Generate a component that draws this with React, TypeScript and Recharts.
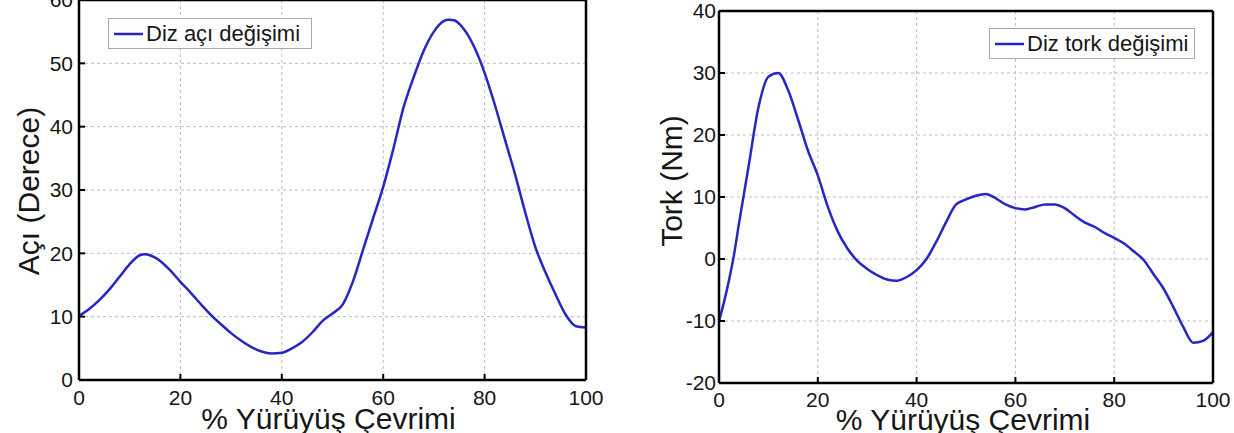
import { LineChart, Line, XAxis, YAxis, CartesianGrid, Legend, Label } from 'recharts';

// Diz açı değişimi (left chart)
const anglePercent = [
  0, 2, 4, 6, 8, 10, 12, 13, 14, 16, 18, 20, 22, 24, 26, 28, 30, 32, 34, 36, 38, 40, 42, 44, 46, 48,
  50, 52, 54, 56, 58, 60, 62, 64, 66, 68, 70, 72, 73, 74, 76, 78, 80, 82, 84, 86, 88, 90, 92, 94, 96,
  98, 100,
];
const angleValues = [
  10.1, 11.2, 12.6, 14.3, 16.3, 18.3, 19.7, 19.85, 19.7, 18.8, 17.3, 15.5, 13.8, 12.0, 10.3, 8.8, 7.4,
  6.2, 5.2, 4.5, 4.2, 4.3, 5.0, 6.0, 7.5, 9.3, 10.5, 11.9, 15.5, 20.5, 25.5, 30.5, 36.5, 43, 47.8, 52,
  55, 56.7, 56.9, 56.8, 55.3, 52.5, 48.5, 43.5, 38, 32.5, 26.5, 21, 17, 13.5, 10.3, 8.5, 8.3,
];

// Diz tork değişimi (right chart)
const torquePercent = [
  0, 1, 2, 3, 4, 6, 8, 10, 12, 14, 16, 18, 20, 22, 24, 26, 28, 30, 32, 34, 36, 38, 40, 42, 44, 46, 48,
  50, 52, 54, 56, 58, 60, 62, 64, 66, 68, 70, 72, 74, 76, 78, 80, 82, 84, 86, 88, 90, 92, 94, 96, 98,
  100,
];
const torqueValues = [
  -10, -7, -3.5, 0.5, 5.5, 15, 24.5, 29.4, 30, 27.2, 22.5, 17.5, 13.5, 8.5, 4.5, 1.7, -0.3, -1.6, -2.6,
  -3.3, -3.5, -2.9, -1.8, 0, 2.8, 6, 8.8, 9.6, 10.2, 10.5, 9.8, 8.8, 8.2, 8.0, 8.4, 8.8, 8.8, 8.2, 7.0,
  5.9, 5.2, 4.2, 3.4, 2.5, 1.2, -0.2, -2.5, -4.8, -7.8, -11, -13.5, -13.2, -11.8,
];

const xTicks = [0, 20, 40, 60, 80, 100];
const angleTicks = [0, 10, 20, 30, 40, 50, 60];
const torqueTicks = [-20, -10, 0, 10, 20, 30, 40];

const xTitle = '% Yürüyüş Çevrimi';
const angleTitle = 'Açı (Derece)';
const torqueTitle = 'Tork (Nm)';
const angleLegend = 'Diz açı değişimi';
const torqueLegend = 'Diz tork değişimi';

const angleData = anglePercent.map((x, i) => ({ x, v: angleValues[i] }));
const torqueData = torquePercent.map((x, i) => ({ x, v: torqueValues[i] }));

const FONT = '"Liberation Sans", Arial, Helvetica, sans-serif';
const BLUE = '#2626c4';
const INK = '#161616';

const tickFont = { fontSize: 21, fill: INK, fontFamily: FONT };
const axisLine = { stroke: '#000', strokeWidth: 2.5 };
const tickLine = { stroke: '#000', strokeWidth: 2 };

function LegendBox({ text }: { text: string }) {
  return (
    <div
      style={{
        display: 'flex',
        alignItems: 'center',
        height: 31,
        boxSizing: 'border-box',
        border: '1px solid #a8a8a8',
        background: '#fff',
        padding: '0 5px',
        fontFamily: FONT,
        fontSize: 22,
        color: INK,
        whiteSpace: 'nowrap',
      }}
    >
      <svg width={29} height={6} style={{ flex: 'none' }}>
        <line x1={0} y1={3} x2={29} y2={3} stroke={BLUE} strokeWidth={2.5} />
      </svg>
      <span style={{ marginLeft: 3 }}>{text}</span>
    </div>
  );
}

function yTitle(text: string, dx: number, dy: number) {
  return (props: any) => {
    const { x, y, height } = props.viewBox;
    const cx = x + dx;
    const cy = y + height / 2 + dy;
    return (
      <text
        x={cx}
        y={cy}
        transform={`rotate(-90 ${cx} ${cy})`}
        textAnchor="middle"
        dominantBaseline="central"
        fontFamily={FONT}
        fontSize={30}
        fill={INK}
      >
        {text}
      </text>
    );
  };
}

function xTitleAt(text: string, dx: number, baseline: number) {
  return (props: any) => {
    const { x, y, width } = props.viewBox;
    return (
      <text
        x={x + width / 2 + dx}
        y={y + baseline}
        textAnchor="middle"
        fontFamily={FONT}
        fontSize={30}
        fill={INK}
      >
        {text}
      </text>
    );
  };
}

interface PanelProps {
  data: { x: number; v: number }[];
  yTicks: number[];
  width: number;
  height: number;
  margin: { top: number; right: number; bottom: number; left: number };
  xAxisHeight: number;
  yTickMargin: number;
  xTickMargin: number;
  yTitleRender: (p: any) => JSX.Element;
  xTitleRender: (p: any) => JSX.Element;
  legendText: string;
  legendPos: { left: number; top: number; width: number };
}

function Panel({
  data,
  yTicks,
  width,
  height,
  margin,
  xAxisHeight,
  yTickMargin,
  xTickMargin,
  yTitleRender,
  xTitleRender,
  legendText,
  legendPos,
}: PanelProps) {
  const yDomain = [yTicks[0], yTicks[yTicks.length - 1]];
  return (
    <LineChart width={width} height={height} data={data} margin={margin}>
      <CartesianGrid stroke="#bcbcbc" strokeDasharray="3 3" strokeWidth={1} />
      <XAxis
        dataKey="x"
        type="number"
        domain={[0, 100]}
        ticks={xTicks}
        interval={0}
        height={xAxisHeight}
        stroke="#000"
        tick={tickFont}
        axisLine={axisLine}
        tickLine={tickLine}
        tickSize={-6}
        tickMargin={xTickMargin}
      >
        <Label content={xTitleRender} />
      </XAxis>
      {/* box frame: top axis */}
      <XAxis
        xAxisId="top"
        dataKey="x"
        orientation="top"
        type="number"
        domain={[0, 100]}
        ticks={xTicks}
        interval={0}
        height={1}
        stroke="#000"
        tick={false}
        axisLine={axisLine}
        tickLine={tickLine}
        tickSize={-6}
      />
      <YAxis
        type="number"
        domain={yDomain}
        ticks={yTicks}
        interval={0}
        width={79}
        stroke="#000"
        tick={tickFont}
        axisLine={axisLine}
        tickLine={tickLine}
        tickSize={-6}
        tickMargin={yTickMargin}
      >
        <Label content={yTitleRender} />
      </YAxis>
      {/* box frame: right axis */}
      <YAxis
        yAxisId="right"
        orientation="right"
        type="number"
        domain={yDomain}
        ticks={yTicks}
        interval={0}
        width={1}
        stroke="#000"
        tick={false}
        axisLine={axisLine}
        tickLine={tickLine}
        tickSize={-6}
      />
      <Legend
        layout="horizontal"
        verticalAlign="middle"
        align="center"
        wrapperStyle={{ ...legendPos, height: 31 }}
        content={() => <LegendBox text={legendText} />}
      />
      <Line
        xAxisId="top"
        yAxisId="right"
        type="monotone"
        dataKey="v"
        stroke="none"
        dot={false}
        activeDot={false}
        legendType="none"
        isAnimationActive={false}
      />
      <Line
        type="monotone"
        dataKey="v"
        name={legendText}
        stroke={BLUE}
        strokeWidth={2.5}
        dot={false}
        activeDot={false}
        isAnimationActive={false}
      />
    </LineChart>
  );
}

export default function App() {
  return (
    <div
      style={{
        position: 'absolute',
        left: 0,
        top: 0,
        width: 1234,
        height: 433,
        overflow: 'hidden',
        background: '#fff',
      }}
    >
      <div style={{ position: 'absolute', left: 0, top: -20 }}>
        <Panel
          data={angleData}
          yTicks={angleTicks}
          width={620}
          height={460}
          margin={{ top: 19, right: 33, bottom: 0, left: 0 }}
          xAxisHeight={60}
          yTickMargin={12}
          xTickMargin={16}
          yTitleRender={yTitle(angleTitle, 28, 1)}
          xTitleRender={xTitleAt(xTitle, -4, 49)}
          legendText={angleLegend}
          legendPos={{ left: 108, top: 38, width: 204 }}
        />
      </div>
      <div style={{ position: 'absolute', left: 640, top: 0 }}>
        <Panel
          data={torqueData}
          yTicks={torqueTicks}
          width={594}
          height={450}
          margin={{ top: 10, right: 20, bottom: 0, left: 0 }}
          xAxisHeight={67}
          yTickMargin={9}
          xTickMargin={15}
          yTitleRender={yTitle(torqueTitle, 31, -16)}
          xTitleRender={xTitleAt(xTitle, -3, 47)}
          legendText={torqueLegend}
          legendPos={{ left: 349, top: 28, width: 206 }}
        />
      </div>
    </div>
  );
}
